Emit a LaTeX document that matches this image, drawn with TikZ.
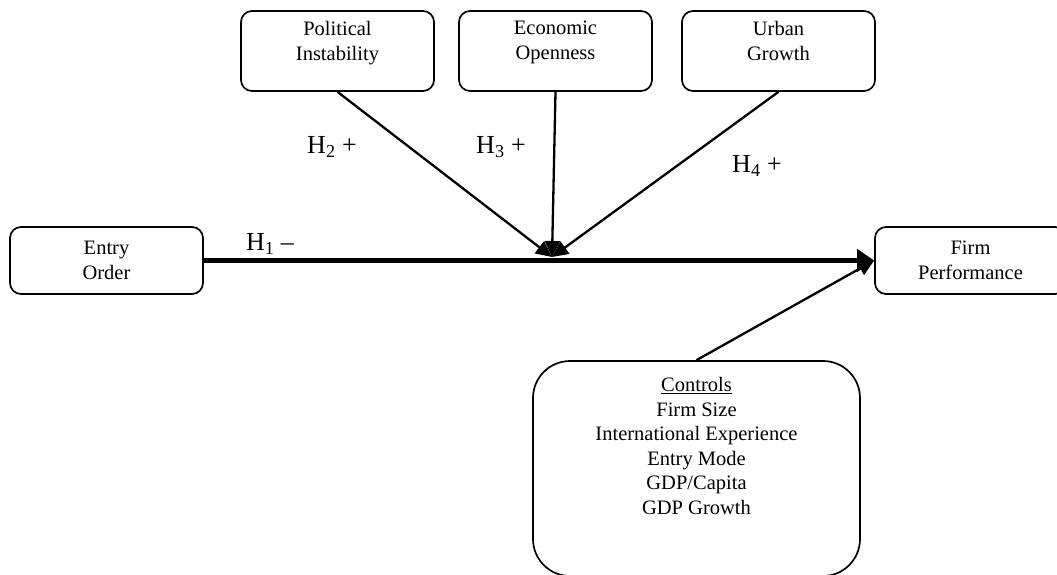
\documentclass[tikz,border=0pt]{standalone}
\usepackage{fontspec}
\setmainfont{Liberation Serif}
\usepackage{tikz}
\usetikzlibrary{arrows.meta,positioning}
\newcommand{\boxfont}{\fontsize{20.5}{25}\selectfont}
\newcommand{\ctrlfont}{\fontsize{20.5}{24.5}\selectfont}
\newcommand{\hypfont}{\fontsize{26}{30}\selectfont}
\tikzset{
    varbox/.style={draw, line width=1.7pt, rounded corners=11pt, align=center, font=\boxfont, inner sep=0pt},
    boxtext/.style={align=center, inner sep=0pt},
    hyp/.style={font=\hypfont, inner sep=0pt},
    link/.style={line width=2.3pt, -{Triangle[length=16pt,width=15pt]}},
    mainlink/.style={line width=5pt, -{Triangle[length=17pt,width=22pt]}}
}
\begin{document}
\begin{tikzpicture}[x=1pt,y=-1pt]
                \useasboundingbox (0,0) rectangle (1057,575);
                \node[varbox, minimum width=193pt, minimum height=80pt] (polit) at (337.5,51) {};
                \node[boxtext, font=\boxfont, below=11pt of polit.north] (polit-t) {Political\\Instability};
                \node[varbox, minimum width=193pt, minimum height=80pt] (econ) at (555.5,51) {};
                \node[boxtext, font=\boxfont, below=11pt of econ.north] (econ-t) {Economic\\Openness};
                \node[varbox, minimum width=193pt, minimum height=80pt] (urban) at (778.5,51) {};
                \node[boxtext, font=\boxfont, below=11pt of urban.north] (urban-t) {Urban\\Growth};
                \node[varbox, minimum width=193pt, minimum height=67pt] (entry) at (106.5,260.5) {Entry\\Order};
                \node[varbox, minimum width=191pt, minimum height=67pt] (perf) at (970.5,260.5) {Firm\\Performance};
                \node[varbox, rounded corners=37pt, minimum width=327pt, minimum height=215pt] (ctrl) at (696.5,468.5) {};
                \node[boxtext, font=\ctrlfont, below=17pt of ctrl.north] (ctrl-t) {\underline{Controls}\\Firm Size\\International Experience\\Entry Mode\\GDP/Capita\\GDP Growth};
                \coordinate (meet) at (552,257);
                \draw[mainlink] (entry.east) -- (perf.west);
                \draw[link] (polit.south) -- (meet);
                \draw[link] (econ.south) -- (meet);
                \draw[link] (urban.south) -- (meet);
                \draw[link] (ctrl.north) -- (perf.west);
                \node[hyp] (h1) at (270,244) {H\textsubscript{1} --};
                \node[hyp] (h2) at (332,147) {H\textsubscript{2} +};
                \node[hyp] (h3) at (501,147) {H\textsubscript{3} +};
                \node[hyp] (h4) at (757,166) {H\textsubscript{4} +};
\end{tikzpicture}
\end{document}
